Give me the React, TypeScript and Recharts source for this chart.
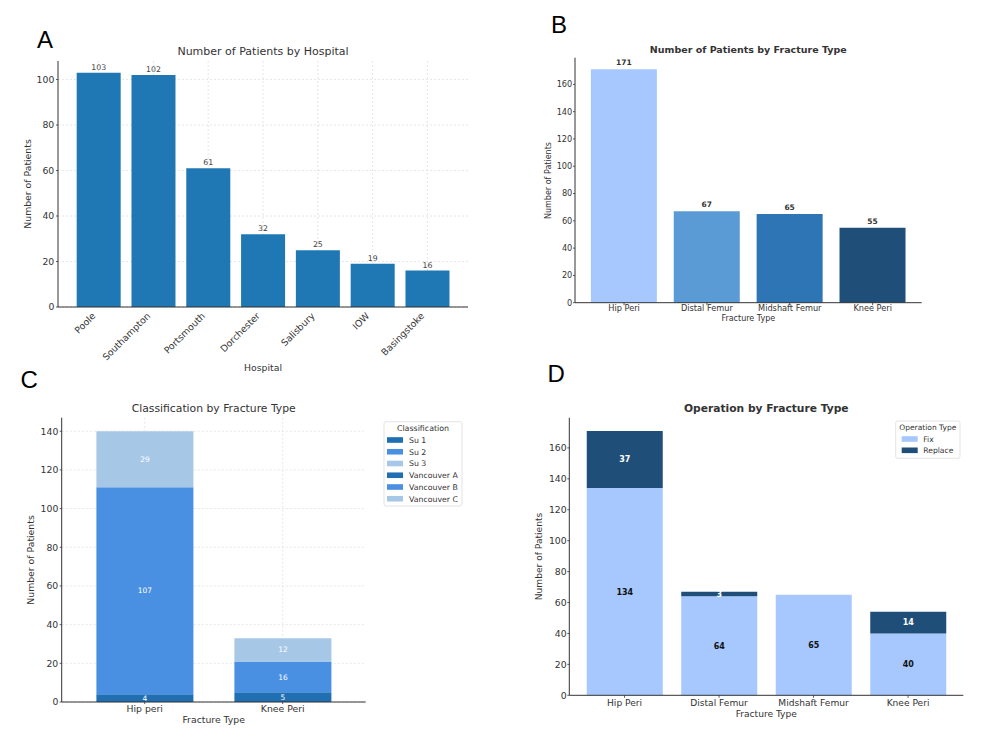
import React from 'react';
import { BarChart, Bar, XAxis, YAxis, CartesianGrid, Cell, LabelList } from 'recharts';

// ---- Panel A: patients per hospital ----
const hospitals = ['Poole', 'Southampton', 'Portsmouth', 'Dorchester', 'Salisbury', 'IOW', 'Basingstoke'];
const hospitalPatients = [103, 102, 61, 32, 25, 19, 16];
const hospitalTicks = [0, 20, 40, 60, 80, 100];

// ---- Panel B: patients per fracture type ----
const fractureTypes = ['Hip Peri', 'Distal Femur', 'Midshaft Femur', 'Knee Peri'];
const fracturePatients = [171, 67, 65, 55];
const fractureColors = ['#a6c8ff', '#5b9bd5', '#2e75b6', '#1f4e79'];
const countTicks = [0, 20, 40, 60, 80, 100, 120, 140, 160];

// ---- Panel C: classification per fracture type ----
const classFractureTypes = ['Hip peri', 'Knee Peri'];
const classNames = ['Su 1', 'Su 2', 'Su 3', 'Vancouver A', 'Vancouver B', 'Vancouver C'];
const su1 = [0, 5];
const su2 = [0, 16];
const su3 = [0, 12];
const vancouverA = [4, 0];
const vancouverB = [107, 0];
const vancouverC = [29, 0];
const classColors = ['#1f6fb2', '#4a90e2', '#a7c7e7', '#1f6fb2', '#4a90e2', '#a7c7e7'];
const classTicks = [0, 20, 40, 60, 80, 100, 120, 140];

// ---- Panel D: operation per fracture type ----
const operationNames = ['Fix', 'Replace'];
const operationFix = [134, 64, 65, 40];
const operationReplace = [37, 3, 0, 14];
const operationColors = ['#a6c8ff', '#1f4e79'];

const hospitalData = hospitals.map((name, i) => ({ name, patients: hospitalPatients[i] }));
const fractureData = fractureTypes.map((name, i) => ({ name, patients: fracturePatients[i] }));
const classSeries = [su1, su2, su3, vancouverA, vancouverB, vancouverC];
const classData = classFractureTypes.map((name, i) => {
  const row: Record<string, string | number> = { name };
  classNames.forEach((c, k) => {
    row[c] = classSeries[k][i];
  });
  return row;
});
const operationData = fractureTypes.map((name, i) => ({
  name,
  Fix: operationFix[i],
  Replace: operationReplace[i],
}));

const FONT = '"DejaVu Sans", sans-serif';
const INK = '#333333';
const GRID = '#e0e0e0';

const hideZero = (v: any) => (Number(v) === 0 ? '' : v);

function SlantTick(props: any) {
  const { x, y, payload } = props;
  const ax = x - 2.5;
  const ay = y + 9.5;
  return (
    <text
      x={ax}
      y={ay}
      transform={`rotate(-45 ${ax} ${ay})`}
      textAnchor="end"
      fontSize={9.3}
      fill={INK}
      fontFamily={FONT}
    >
      {payload.value}
    </text>
  );
}

const place = (left: number, top: number): React.CSSProperties => ({
  position: 'absolute',
  left,
  top,
});

function Annotations() {
  return (
    <svg
      width={986}
      height={745}
      style={{ position: 'absolute', left: 0, top: 0, pointerEvents: 'none' }}
    >
      {/* panel letters */}
      <g fontFamily='"Liberation Sans", Arial, sans-serif' fontSize={24} fill="#000">
        <text x={37} y={48.3}>A</text>
        <text x={551} y={33.3}>B</text>
        <text x={20.5} y={388.3}>C</text>
        <text x={547.4} y={381.7}>D</text>
      </g>

      <g fontFamily={FONT} fill={INK} textAnchor="middle">
        {/* titles */}
        <text x={263} y={55} fontSize={11}>Number of Patients by Hospital</text>
        <text x={748.3} y={53.2} fontSize={9.5} fontWeight="bold">Number of Patients by Fracture Type</text>
        <text x={213.7} y={411.8} fontSize={10.8}>Classification by Fracture Type</text>
        <text x={766.3} y={411.8} fontSize={10.7} fontWeight="bold">Operation by Fracture Type</text>

        {/* axis titles */}
        <text x={263} y={371.4} fontSize={9.3}>Hospital</text>
        <text x={31.4} y={184} fontSize={9.3} transform="rotate(-90 31.4 184)">Number of Patients</text>

        <text x={748.3} y={321} fontSize={8}>Fracture Type</text>
        <text x={551} y={180.5} fontSize={8} transform="rotate(-90 551 180.5)">Number of Patients</text>

        <text x={213.7} y={723.4} fontSize={9.3}>Fracture Type</text>
        <text x={34.1} y={560} fontSize={9.3} transform="rotate(-90 34.1 560)">Number of Patients</text>

        <text x={766.3} y={716.7} fontSize={9.1}>Fracture Type</text>
        <text x={542.4} y={556.5} fontSize={9.1} transform="rotate(-90 542.4 556.5)">Number of Patients</text>
      </g>

      {/* legend: classification */}
      <g fontFamily={FONT} fill={INK}>
        <rect x={384} y={421.7} width={78} height={84.3} rx={2} fill="#fff" stroke="#dcdcdc" strokeWidth={0.8} />
        <text x={423} y={430.6} fontSize={7.9} textAnchor="middle">Classification</text>
        {classNames.map((n, i) => {
          const yc = 440 + i * 11.75;
          return (
            <g key={n}>
              <rect x={387} y={yc - 2.8} width={16} height={5.6} fill={classColors[i]} />
              <text x={409} y={yc + 2.8} fontSize={7.8}>{n}</text>
            </g>
          );
        })}
      </g>

      {/* legend: operation type */}
      <g fontFamily={FONT} fill={INK}>
        <rect x={895.7} y={421} width={64.3} height={37.3} rx={2} fill="#fff" stroke="#dcdcdc" strokeWidth={0.8} />
        <text x={927.8} y={430} fontSize={7.5} textAnchor="middle">Operation Type</text>
        {operationNames.map((n, i) => {
          const yc = 439 + i * 11.3;
          return (
            <g key={n}>
              <rect x={901.7} y={yc - 2.8} width={16} height={5.6} fill={operationColors[i]} />
              <text x={923.3} y={yc + 2.7} fontSize={7.6}>{n}</text>
            </g>
          );
        })}
      </g>
    </svg>
  );
}

export default function App() {
  const axisLine = { stroke: INK, strokeWidth: 1 };
  const tickLine = { stroke: INK, strokeWidth: 0.8 };

  return (
    <div
      style={{
        position: 'absolute',
        left: 0,
        top: 0,
        width: 986,
        height: 745,
        background: '#ffffff',
        overflow: 'hidden',
      }}
    >
      {/* A */}
      <div style={place(0, 30)}>
        <BarChart
          width={490}
          height={340}
          data={hospitalData}
          margin={{ top: 31, left: 18, right: 22, bottom: 13 }}
          barCategoryGap="10%"
        >
          <XAxis
            dataKey="name"
            type="category"
            height={50}
            padding={{ left: 13.2, right: 13.2 }}
            interval={0}
            tick={<SlantTick />}
            tickLine={false}
            tickSize={0}
            tickMargin={0}
            axisLine={axisLine}
          />
          <YAxis
            type="number"
            width={40}
            domain={[0, 108.15]}
            ticks={hospitalTicks}
            interval={0}
            tick={{ fontSize: 9.3, fill: INK, fontFamily: FONT }}
            tickSize={2}
            tickMargin={1.7}
            tickLine={tickLine}
            axisLine={axisLine}
          />
          <Bar dataKey="patients" fill="#1f77b4" isAnimationActive={false}>
            <LabelList dataKey="patients" position="top" offset={3} fontSize={7.8} fill="#444" fontFamily={FONT} />
          </Bar>
          <CartesianGrid stroke={GRID} strokeDasharray="2 2" strokeWidth={0.8} syncWithTicks />
        </BarChart>
      </div>

      {/* B */}
      <div style={place(495, 30)}>
        <BarChart
          width={491}
          height={300}
          data={fractureData}
          margin={{ top: 27.7, left: 45, right: 64.3, bottom: 7.3 }}
          barCategoryGap="10%"
        >
          <XAxis
            dataKey="name"
            type="category"
            height={20}
            padding={{ left: 7.6, right: 7.6 }}
            interval={0}
            tick={{ fontSize: 8.2, fill: INK, fontFamily: FONT }}
            tickSize={2.5}
            tickMargin={0}
            tickLine={tickLine}
            axisLine={axisLine}
          />
          <YAxis
            type="number"
            width={35}
            domain={[0, 179.55]}
            ticks={countTicks}
            interval={0}
            tick={{ fontSize: 8.2, fill: INK, fontFamily: FONT }}
            tickSize={2}
            tickMargin={0.7}
            tickLine={tickLine}
            axisLine={axisLine}
          />
          <Bar dataKey="patients" isAnimationActive={false}>
            {fractureData.map((d, i) => (
              <Cell key={d.name} fill={fractureColors[i]} />
            ))}
            <LabelList
              dataKey="patients"
              position="top"
              offset={4}
              fontSize={7.5}
              fontWeight="bold"
              fill={INK}
              fontFamily={FONT}
            />
          </Bar>
        </BarChart>
      </div>

      {/* C */}
      <div style={place(0, 395)}>
        <BarChart
          width={490}
          height={345}
          data={classData}
          margin={{ top: 22.7, left: 21.7, right: 124.3, bottom: 18 }}
          barCategoryGap="15%"
        >
          <XAxis
            dataKey="name"
            type="category"
            height={20}
            padding={{ left: 14, right: 14 }}
            interval={0}
            tick={{ fontSize: 9.3, fill: INK, fontFamily: FONT }}
            tickSize={2}
            tickMargin={1.8}
            tickLine={tickLine}
            axisLine={axisLine}
          />
          <YAxis
            type="number"
            width={40}
            domain={[0, 147]}
            ticks={classTicks}
            interval={0}
            tick={{ fontSize: 9.3, fill: INK, fontFamily: FONT }}
            tickSize={2}
            tickMargin={1.4}
            tickLine={tickLine}
            axisLine={axisLine}
          />
          {classNames.map((n, i) => (
            <Bar key={n} dataKey={n} stackId="class" fill={classColors[i]} isAnimationActive={false}>
              <LabelList
                dataKey={n}
                position="center"
                formatter={hideZero}
                fontSize={7.5}
                fill="#ffffff"
                fontFamily={FONT}
              />
            </Bar>
          ))}
          <CartesianGrid stroke={GRID} strokeDasharray="2 2" strokeWidth={0.8} syncWithTicks />
        </BarChart>
      </div>

      {/* D */}
      <div style={place(495, 395)}>
        <BarChart
          width={491}
          height={345}
          data={operationData}
          margin={{ top: 22.7, left: 39.3, right: 22.7, bottom: 24.7 }}
          barCategoryGap="10%"
        >
          <XAxis
            dataKey="name"
            type="category"
            height={20}
            padding={{ left: 8, right: 8 }}
            interval={0}
            tick={{ fontSize: 9.1, fill: INK, fontFamily: FONT }}
            tickSize={2.5}
            tickMargin={1.8}
            tickLine={tickLine}
            axisLine={axisLine}
          />
          <YAxis
            type="number"
            width={35}
            domain={[0, 179.55]}
            ticks={countTicks}
            interval={0}
            tick={{ fontSize: 9.3, fill: INK, fontFamily: FONT }}
            tickSize={2}
            tickMargin={0.6}
            tickLine={tickLine}
            axisLine={axisLine}
          />
          <Bar dataKey="Fix" stackId="op" fill={operationColors[0]} isAnimationActive={false}>
            <LabelList
              dataKey="Fix"
              position="center"
              formatter={hideZero}
              fontSize={8}
              fontWeight="bold"
              fill="#111111"
              fontFamily={FONT}
            />
          </Bar>
          <Bar dataKey="Replace" stackId="op" fill={operationColors[1]} isAnimationActive={false}>
            <LabelList
              dataKey="Replace"
              position="center"
              formatter={hideZero}
              fontSize={8}
              fontWeight="bold"
              fill="#ffffff"
              fontFamily={FONT}
            />
          </Bar>
        </BarChart>
      </div>

      <Annotations />
    </div>
  );
}
